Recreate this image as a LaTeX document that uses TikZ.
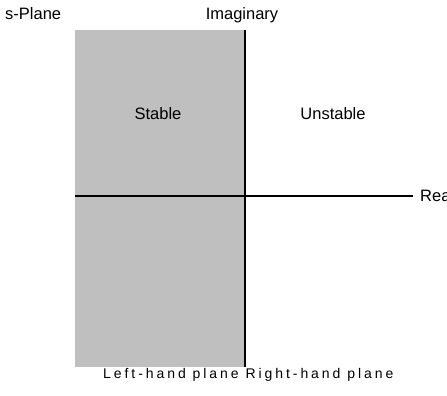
\documentclass[tikz,border=0pt]{standalone}
\usepackage{fontspec}
\setmainfont{Liberation Sans}
\begin{document}
\begin{tikzpicture}[x=1pt,y=-1pt,
  lbl/.style={inner sep=0pt, font=\fontsize{16.5}{19}\selectfont},
  axis/.style={draw=black, line width=1.6pt}]
\useasboundingbox (0,0) rectangle (447,396);
\fill[black!25] (75,30) rectangle (245,367);
\coordinate (top) at (245,30);
\coordinate (bot) at (245,367);
\coordinate (left) at (75,196);
\coordinate (right) at (413,196);
\draw[axis] (top) -- (bot);
\draw[line width=1.3pt] (left) -- (right);
\node[lbl, anchor=base west] (splane) at (5,20) {s-Plane};
\node[lbl, anchor=base] (imag) at (242,20) {Imaginary};
\node[lbl, anchor=base west] (real) at (420,201) {Real};
\node[lbl, anchor=base] (stable) at (158,119) {Stable};
\node[lbl, anchor=base] (unstable) at (333,119) {Unstable};
\node[inner sep=0pt, font=\fontsize{14}{16}\selectfont, anchor=base west] (planes) at (103,378) {\addfontfeature{LetterSpace=21}Left-hand plane Right-hand plane};
\end{tikzpicture}
\end{document}
